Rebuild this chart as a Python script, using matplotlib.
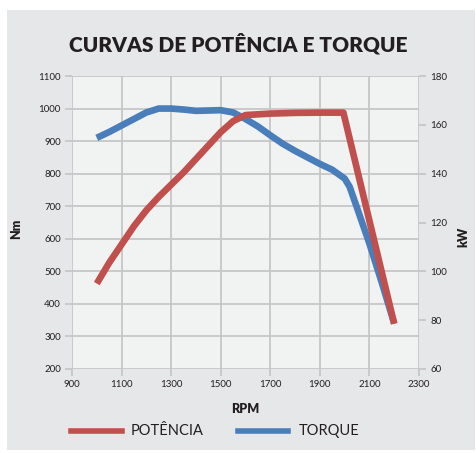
import numpy as np
import matplotlib.pyplot as plt
from matplotlib.patches import Rectangle

# torque curve (Nm, left axis)
rpm_torque = [1000, 1050, 1100, 1150, 1200, 1250, 1300, 1350, 1400, 1450, 1500, 1550,
              1600, 1650, 1700, 1750, 1800, 1850, 1900, 1950, 2000, 2020, 2050, 2100, 2150, 2200]
torque = [910, 928, 948, 968, 988, 1000, 1000, 997, 993, 994, 995, 988,
          968, 945, 918, 892, 870, 850, 830, 812, 785, 760, 695, 585, 465, 340]

# power curve (kW, right axis)
rpm_power = [1000, 1050, 1100, 1150, 1200, 1250, 1300, 1350, 1400, 1450, 1500, 1550,
             1600, 1700, 1800, 1900, 1995, 2200]
power = [95, 103.5, 111, 118.5, 125, 130.5, 135.5, 140.5, 146, 151.5, 157, 161.5,
         164, 164.6, 164.9, 165, 165, 78.5]

x_ticks = [900, 1100, 1300, 1500, 1700, 1900, 2100, 2300]
nm_ticks = [200, 300, 400, 500, 600, 700, 800, 900, 1000, 1100]
kw_ticks = [60, 80, 100, 120, 140, 160, 180]

red = '#c0504d'
blue = '#4a7ebb'
gridc = '#c6c6c6'
txt = '#231f20'

plt.rcParams['font.family'] = ['Lato', 'DejaVu Sans']

fig = plt.figure(figsize=(4.77, 4.53), dpi=100)
fig.patch.set_facecolor('white')
fig.add_artist(Rectangle((7/477, 3/453), 468/477, 440/453, transform=fig.transFigure,
                         facecolor='#e6e7e8', edgecolor='none', zorder=-10))

ax = fig.add_axes([72/477, 1-369/453, 347/477, 293/453])
ax.set_facecolor('#f1f2f2')
ax2 = ax.twinx()

ax.set_xlim(900, 2300)
ax.set_ylim(200, 1100)
ax2.set_ylim(60, 180)
ax.set_xticks(x_ticks)
ax.set_yticks(nm_ticks)
ax2.set_yticks(kw_ticks)
ax.grid(True, color=gridc, linewidth=1.3)
ax.set_axisbelow(True)

for a in (ax, ax2):
    for s in a.spines.values():
        s.set_visible(False)
ax.tick_params(axis='both', length=5, width=1.3, color=gridc, labelsize=7, labelcolor=txt, pad=3)
ax2.tick_params(axis='y', length=5, width=1.3, color=gridc, labelsize=7, labelcolor=txt, pad=3)

ax.plot(rpm_torque, torque, color=blue, linewidth=4.8, solid_joinstyle='round',
        solid_capstyle='butt', zorder=3)
ax2.plot(rpm_power, power, color=red, linewidth=4.8, solid_joinstyle='round',
         solid_capstyle='butt', zorder=3)

ax.set_ylabel('Nm', fontsize=9, fontweight='heavy', color=txt)
ax.yaxis.set_label_coords(-0.144, 0.48)
ax2.set_ylabel('kW', fontsize=9, fontweight='heavy', color=txt, rotation=90)
ax2.yaxis.set_label_coords(1.112, 0.45)
ax.set_xlabel('RPM', fontsize=9, fontweight='heavy', color=txt)
ax.xaxis.set_label_coords(0.5, -0.116)

fig.text(0.5, 1-44/453, 'CURVAS DE POTÊNCIA E TORQUE', ha='center', va='center',
         fontsize=15, fontweight='heavy', color=txt)

# legend
fig.add_artist(plt.Line2D([71/477, 122/477], [1-431/453]*2, transform=fig.transFigure,
                          color=red, linewidth=4))
fig.text(131/477, 1-431/453, 'POTÊNCIA', fontsize=10.5, color=txt, va='center')
fig.add_artist(plt.Line2D([238/477, 288/477], [1-431/453]*2, transform=fig.transFigure,
                          color=blue, linewidth=4))
fig.text(299/477, 1-431/453, 'TORQUE', fontsize=10.5, color=txt, va='center')

fig.savefig('out.png', dpi=100)
